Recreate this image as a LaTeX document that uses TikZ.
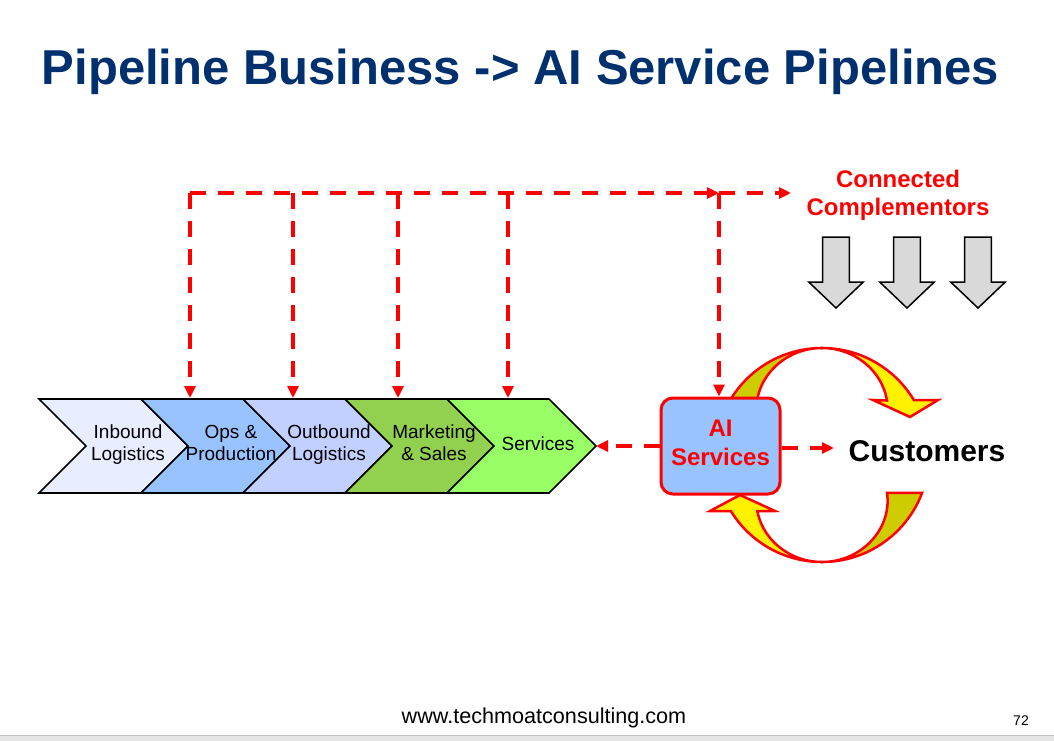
\documentclass[tikz,border=0pt]{standalone}
\usepackage{fontspec}
\setmainfont{Liberation Sans}
\usetikzlibrary{arrows.meta}
\definecolor{titleblue}{HTML}{00306E}
\definecolor{inbcol}{HTML}{E8EEFF}
\definecolor{opscol}{HTML}{99C3FF}
\definecolor{outcol}{HTML}{C2D0FF}
\definecolor{mktcol}{HTML}{92D050}
\definecolor{svccol}{HTML}{99FF66}
\definecolor{aicol}{HTML}{99C3FF}
\definecolor{olivecol}{HTML}{CCCC00}
\definecolor{grayarrow}{HTML}{D9D9D9}
\definecolor{redc}{HTML}{FF0000}
\begin{document}
\begin{tikzpicture}[x=1pt,y=1pt,
  chev/.style={draw=black, line width=1.6pt, line join=miter},
  chevtext/.style={align=center, inner sep=0pt, anchor=north, font=\fontsize{19}{22}\selectfont},
  reddash/.style={draw=redc, line width=3.2pt, dash pattern=on 16pt off 12pt, -{Triangle[length=12pt,width=11pt]}},
  loopar/.style={draw=redc, line width=2.5pt, line join=miter},
  garrow/.style={draw=black, line width=1.5pt, fill=grayarrow},
  aibox/.style={draw=redc, line width=3pt, fill=aicol, rounded corners=12pt, minimum width=119pt, minimum height=96pt},
  aitext/.style={align=center, text=redc, inner sep=0pt, font=\bfseries\fontsize{24}{29}\selectfont}
]
\useasboundingbox (0,0) rectangle (1054,-741);
\fill[white] (0,0) rectangle (1054,-741);
\fill[black!10] (0,-735) rectangle (1054,-741);
\draw[black!25, line width=1pt] (0,-735) -- (1054,-735);

% title
\node[anchor=base, text=titleblue, font=\bfseries\fontsize{49}{56}\selectfont, inner sep=0pt] (title) at (520.5,-85) {Pipeline Business -> AI Service Pipelines};

% chevrons
\foreach \L/\c in {39/inbcol,141/opscol,243/outcol,345/mktcol,447/svccol}{
  \draw[chev, fill=\c] (\L,-399) -- ++(102,0) -- ++(47,-47) -- ++(-47,-47) -- ++(-102,0) -- ++(47,47) -- cycle;
}
\node[chevtext] (inb) at (128,-425) {Inbound\\Logistics};
\node[chevtext] (ops) at (231,-425) {Ops \&\\Production};
\node[chevtext] (outb) at (329,-425) {Outbound\\Logistics};
\node[chevtext] (mkt) at (434,-425) {Marketing\\\& Sales};
\node[chevtext, anchor=center] (svc) at (538,-444) {Services};
\coordinate (svctip) at (596,-446);

% circular arrows (ribbon: width grows quadratically from the apex)
\draw[loopar, fill=olivecol]
  plot[domain=155:90, samples=40] ({822+107*cos(\x)},{-455+107*sin(\x)})
  -- plot[domain=90:155, samples=40] ({822+(107-0.0089*(\x-90)^2)*cos(\x)},{-455+(107-0.0089*(\x-90)^2)*sin(\x)})
  -- cycle;
\draw[loopar, fill=yellow]
  plot[domain=90:30.9, samples=40] ({822+107*cos(\x)},{-455+107*sin(\x)})
  -- (938,-400) -- (910,-417) -- (873,-400)
  -- plot[domain=40:90, samples=40] ({822+(107-0.0089*(\x-90)^2)*cos(\x)},{-455+(107-0.0089*(\x-90)^2)*sin(\x)})
  -- cycle;
\draw[loopar, fill=olivecol]
  plot[domain=-20.8:-90, samples=40] ({822+107*cos(\x)},{-455+107*sin(\x)})
  -- plot[domain=-90:-30.3, samples=40] ({822+(107-0.0089*(\x+90)^2)*cos(\x)},{-455+(107-0.0089*(\x+90)^2)*sin(\x)})
  -- cycle;
\draw[loopar, fill=yellow]
  plot[domain=-90:-148.4, samples=40] ({822+107*cos(\x)},{-455+107*sin(\x)})
  -- (710,-511) -- (740,-495) -- (775,-511)
  -- plot[domain=-139:-90, samples=40] ({822+(107-0.0089*(\x+90)^2)*cos(\x)},{-455+(107-0.0089*(\x+90)^2)*sin(\x)})
  -- cycle;

% AI services box
\node[aibox] (ai) at (720.5,-446) {};
\node[aitext] (aitxt) at (720.5,-443) {AI\\Services};

% customers
\node[font=\bfseries\fontsize{30}{34}\selectfont, inner sep=0pt] (cust) at (927,-451) {Customers};

% complementors
\node[align=center, text=redc, font=\bfseries\fontsize{24}{28}\selectfont, inner sep=0pt] (comp) at (898,-195) {Connected\\Complementors};
\foreach \cx in {836,907,978}{
  \draw[garrow] (\cx-13.3,-237) -- (\cx+13.3,-237) -- (\cx+13.3,-282) -- (\cx+27.3,-282) -- (\cx,-308) -- (\cx-27.3,-282) -- (\cx-13.3,-282) -- cycle;
}

% dashed connectors
\coordinate (h0) at (190,-193);
\coordinate (h1) at (293,-193);
\coordinate (h2) at (398,-193);
\coordinate (h3) at (508,-193);
\coordinate (hj) at (719,-193);
\coordinate (hend) at (791,-193);
\coordinate (d0) at (190,-398);
\coordinate (d1) at (293,-398);
\coordinate (d2) at (398,-398);
\coordinate (d3) at (508,-398);
\coordinate (custin) at (834,-448);
\draw[reddash] (h0) -- (hj);
\draw[reddash] (hj) -- (hend);
\draw[reddash] (h0) -- (d0);
\draw[reddash] (h1) -- (d1);
\draw[reddash] (h2) -- (d2);
\draw[reddash] (h3) -- (d3);
\draw[reddash] (hj) -- (hj |- ai.north);
\draw[reddash] (ai.west) -- (svctip);
\draw[reddash] (ai.east |- custin) -- (custin);

% footer
\node[font=\fontsize{21.6}{24}\selectfont, inner sep=0pt] (web) at (544,-718) {www.techmoatconsulting.com};
\node[font=\fontsize{14}{16}\selectfont, inner sep=0pt] (pg) at (1021,-721) {72};
\end{tikzpicture}
\end{document}
